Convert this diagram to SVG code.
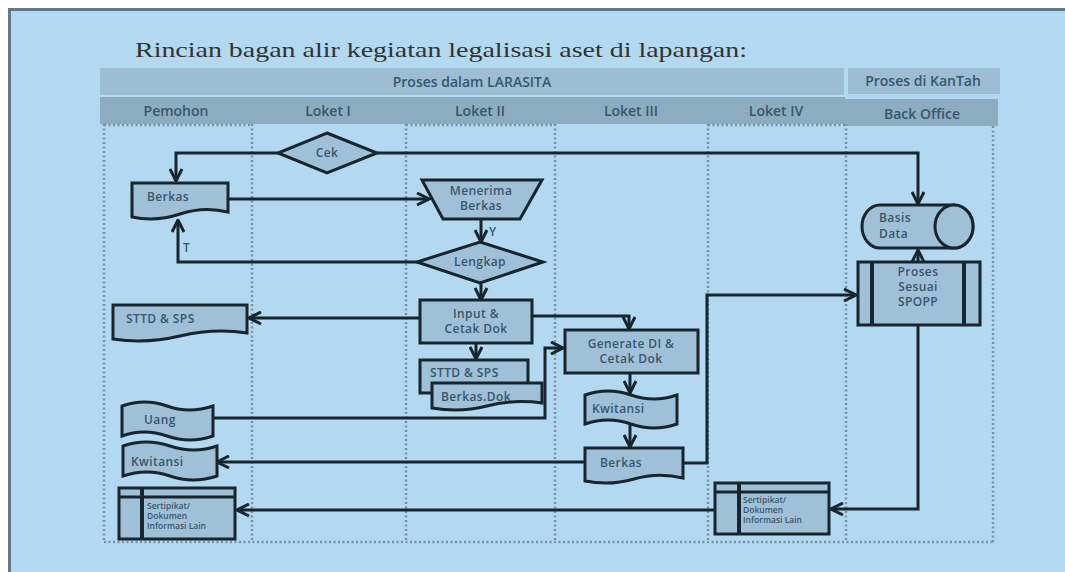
<svg xmlns="http://www.w3.org/2000/svg" width="1065" height="572" viewBox="0 0 1065 572">
  <style>
    .node { fill: #9fc0d7; stroke: #17252e; stroke-width: 3; stroke-linejoin: miter; }
    .bar { fill: none; stroke: #17252e; stroke-width: 4; }
    .thin { fill: none; stroke: #17252e; stroke-width: 3; }
    .lbl { font-family: "Open Sans", "Noto Sans", sans-serif; font-size: 12px; fill: #3b566b; font-weight: 600; letter-spacing: 0.4px; }
    .mid { text-anchor: middle; }
    .small { font-size: 8.5px; letter-spacing: 0; }
    .hdr { font-family: "Open Sans", "Noto Sans", sans-serif; font-size: 14px; fill: #3b566b; font-weight: 600; text-anchor: middle; }
    .lane { fill: none; stroke: #7a92a3; stroke-width: 2.5; stroke-dasharray: 2 2.5; }
    .conn { fill: none; stroke: #17252e; stroke-width: 3; marker-end: url(#ah); }
  </style>
  <defs>
    <marker id="ah" viewBox="0 0 10 10" refX="9" refY="5" markerWidth="5" markerHeight="5" orient="auto" markerUnits="strokeWidth">
      <path d="M1,1 L9,5 L1,9" fill="none" stroke="#17252e" stroke-width="2"/>
    </marker>
  </defs>

  <!-- page frame -->
  <rect x="0" y="0" width="1065" height="572" fill="#ffffff"/>
  <rect x="9.5" y="9.5" width="1080" height="580" fill="#b2d9ef" stroke="#62788a" stroke-width="3"/>

  <!-- title -->
  <text x="135" y="57" font-family="Liberation Serif, serif" font-size="21" fill="#333333" textLength="612" lengthAdjust="spacingAndGlyphs">Rincian bagan alir kegiatan legalisasi aset di lapangan:</text>

  <!-- header bars -->
  <g id="header">
    <rect x="100" y="68" width="744" height="27" fill="#9cbdd2"/>
    <rect x="848" y="68" width="152" height="26" fill="#9cbdd2"/>
    <rect x="100" y="97" width="745" height="27" fill="#8dacc0"/>
    <rect x="845" y="99" width="153" height="27" fill="#8dacc0"/>
    <text class="hdr" x="472" y="87" font-size="13">Proses dalam LARASITA</text>
    <text class="hdr" x="923" y="86" font-size="11">Proses di KanTah</text>
    <text class="hdr" x="176" y="116">Pemohon</text>
    <text class="hdr" x="328" y="116">Loket I</text>
    <text class="hdr" x="480" y="116">Loket II</text>
    <text class="hdr" x="631" y="116">Loket III</text>
    <text class="hdr" x="776" y="116">Loket IV</text>
    <text class="hdr" x="922" y="119" font-size="15">Back Office</text>
  </g>

  <!-- swimlane separators -->
  <g id="lanes">
    <path class="lane" d="M104,124 V542 M252,124 V542 M406,124 V542 M555,124 V542 M708,124 V542 M846,124 V542 M993,126 V542 M104,542 H993"/>
    <path class="lane" d="M104,125 H252 M406,125 H555 M708,125 H846" stroke-width="2"/>
  </g>

  <!-- connectors -->
  <g id="connectors">
    <path class="conn" d="M278,153 H176 V181"/>
    <path class="conn" d="M377,153 H918 V204"/>
    <path class="conn" d="M229,199 H429"/>
    <path class="conn" d="M481,219 V242"/>
    <path class="conn" d="M417,262 H178 V220"/>
    <path class="conn" d="M481,283 V300"/>
    <path class="conn" d="M420,318 H249"/>
    <path class="conn" d="M532,316 H629 V329"/>
    <path class="conn" d="M476,343 V359"/>
    <path class="conn" d="M213,418 H545 V348 H563"/>
    <path class="conn" d="M630,373 V393"/>
    <path class="conn" d="M630,425 V447"/>
    <path class="conn" d="M585,462 H217"/>
    <path class="conn" d="M683,463 H707 V295 H856"/>
    <path class="conn" d="M918,262 V250"/>
    <path class="conn" d="M918,325 V509 H831"/>
    <path class="conn" d="M715,510 H237"/>
    <text class="lbl" x="489" y="236" font-weight="700">Y</text>
    <text class="lbl" x="183" y="252" font-weight="700">T</text>
  </g>

  <!-- Pemohon lane -->
  <g id="berkas-pemohon">
    <path class="node" d="M132,183 H228 V212 Q204,206 180,214 T132,217 Z"/>
    <text class="lbl" x="147" y="201">Berkas</text>
  </g>
  <g id="sttd-pemohon">
    <path class="node" d="M113,305 H247 V333 Q214,328 180,336 T113,339 Z"/>
    <text class="lbl" x="126" y="323">STTD &amp; SPS</text>
  </g>
  <g id="uang">
    <path class="node" d="M122,406 Q145,398 167,406 T213,406 V436 Q190,444 167,436 T122,436 Z"/>
    <text class="lbl" x="144" y="424">Uang</text>
  </g>
  <g id="kwitansi-pemohon">
    <path class="node" d="M123,446 Q146,438 170,446 T217,446 V476 Q193,484 170,476 T123,476 Z"/>
    <text class="lbl" x="131" y="466">Kwitansi</text>
  </g>
  <g id="sertipikat-pemohon">
    <rect class="node" x="119" y="488" width="116" height="51"/>
    <path class="thin" d="M119,497 H235"/>
    <path class="bar" d="M142,488 V539"/>
    <text class="lbl small" x="147" y="509">Sertipikat/</text>
    <text class="lbl small" x="147" y="519">Dokumen</text>
    <text class="lbl small" x="147" y="529">Informasi Lain</text>
  </g>

  <!-- Loket I -->
  <g id="cek">
    <path class="node" d="M327,133 L377,153 L327,173 L278,153 Z"/>
    <text class="lbl mid" x="327" y="157">Cek</text>
  </g>

  <!-- Loket II -->
  <g id="menerima-berkas">
    <path class="node" d="M422,180 H542 L520,219 H443 Z"/>
    <text class="lbl mid" x="481" y="195">Menerima</text>
    <text class="lbl mid" x="481" y="210">Berkas</text>
  </g>
  <g id="lengkap">
    <path class="node" d="M480,242 L543,262 L480,283 L417,262 Z"/>
    <text class="lbl mid" x="480" y="266">Lengkap</text>
  </g>
  <g id="input-cetak">
    <rect class="node" x="420" y="300" width="112" height="43"/>
    <text class="lbl mid" x="476" y="318">Input &amp;</text>
    <text class="lbl mid" x="476" y="333">Cetak Dok</text>
  </g>
  <g id="sttd-berkas-dok">
    <rect class="node" x="420" y="360" width="108" height="33"/>
    <text class="lbl" x="430" y="377">STTD &amp; SPS</text>
    <path class="node" d="M432,383 H542 V403 Q514,399 487,406 T432,408 Z"/>
    <text class="lbl" x="441" y="401" font-size="14">Berkas.Dok</text>
  </g>

  <!-- Loket III -->
  <g id="generate">
    <rect class="node" x="565" y="330" width="133" height="43"/>
    <text class="lbl mid" x="631" y="348">Generate DI &amp;</text>
    <text class="lbl mid" x="631" y="363">Cetak Dok</text>
  </g>
  <g id="kwitansi-loket3">
    <path class="node" d="M585,395 Q608,387 631,395 T677,395 V424 Q654,432 631,424 T585,424 Z"/>
    <text class="lbl" x="592" y="413">Kwitansi</text>
  </g>
  <g id="berkas-loket3">
    <path class="node" d="M585,448 H683 V478 Q658,472 634,479 T585,481 Z"/>
    <text class="lbl" x="600" y="467" font-size="14">Berkas</text>
  </g>

  <!-- Loket IV -->
  <g id="sertipikat-loket4">
    <rect class="node" x="715" y="483" width="114" height="51"/>
    <path class="thin" d="M715,492 H829"/>
    <path class="bar" d="M739,483 V534"/>
    <text class="lbl small" x="743" y="503">Sertipikat/</text>
    <text class="lbl small" x="743" y="513">Dokumen</text>
    <text class="lbl small" x="743" y="523">Informasi Lain</text>
  </g>

  <!-- Back Office -->
  <g id="basis-data">
    <path class="node" d="M880,205 H954 A19,21.5 0 0 1 954,248 H880 A18,21.5 0 0 1 880,205 Z"/>
    <ellipse class="node" cx="954" cy="226.5" rx="19" ry="21.5"/>
    <text class="lbl" x="879" y="222">Basis</text>
    <text class="lbl" x="879" y="238">Data</text>
  </g>
  <g id="proses-spopp">
    <rect class="node" x="858" y="262" width="122" height="63"/>
    <path class="bar" d="M872,262 V325 M964,262 V325"/>
    <text class="lbl mid" x="918" y="276" font-size="11">Proses</text>
    <text class="lbl mid" x="918" y="291" font-size="11">Sesuai</text>
    <text class="lbl mid" x="918" y="306" font-size="11">SPOPP</text>
  </g>
</svg>
